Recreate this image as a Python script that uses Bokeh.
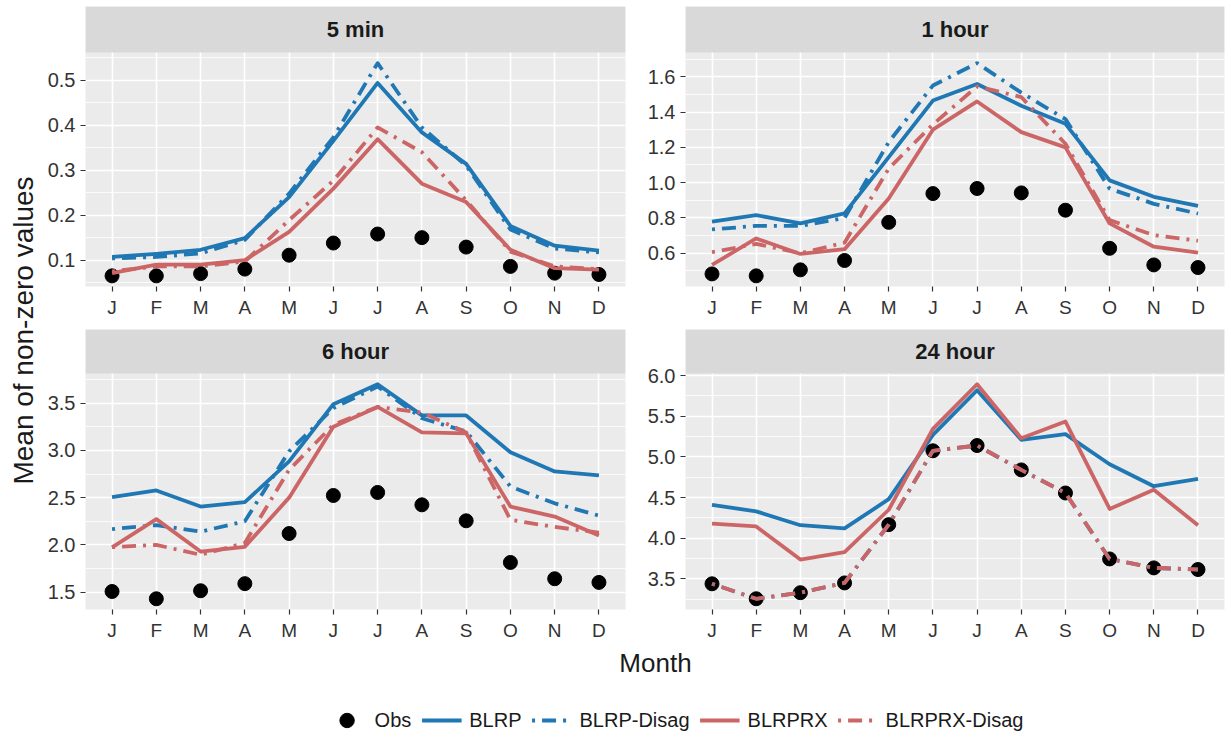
import math
from bokeh.plotting import figure
from bokeh.layouts import row, column
from bokeh.models import (Label, Legend, LegendItem, FixedTicker, BoxAnnotation,
                          NumeralTickFormatter, Range1d)
from bokeh.embed import file_html
from bokeh.resources import INLINE

# ---------------- data ----------------
months = ["J", "F", "M", "A", "M", "J", "J", "A", "S", "O", "N", "D"]
month_idx = list(range(1, 13))
panel_titles = ["5 min", "1 hour", "6 hour", "24 hour"]
series_names = ["Obs", "BLRP", "BLRP-Disag", "BLRPRX", "BLRPRX-Disag"]

obs_5min = [0.065, 0.065, 0.070, 0.080, 0.111, 0.138, 0.158, 0.150, 0.129, 0.086, 0.071, 0.068]
blrp_5min = [0.107, 0.114, 0.123, 0.149, 0.240, 0.365, 0.494, 0.384, 0.314, 0.176, 0.132, 0.121]
blrpd_5min = [0.104, 0.107, 0.115, 0.145, 0.248, 0.373, 0.538, 0.395, 0.310, 0.168, 0.126, 0.117]
blrprx_5min = [0.071, 0.090, 0.090, 0.100, 0.163, 0.259, 0.369, 0.270, 0.229, 0.123, 0.082, 0.079]
blrprxd_5min = [0.075, 0.086, 0.086, 0.097, 0.189, 0.277, 0.395, 0.340, 0.233, 0.119, 0.086, 0.080]

obs_1h = [0.483, 0.472, 0.506, 0.559, 0.775, 0.938, 0.967, 0.942, 0.844, 0.628, 0.534, 0.519]
blrp_1h = [0.779, 0.816, 0.769, 0.826, 1.145, 1.465, 1.559, 1.436, 1.333, 1.013, 0.920, 0.869]
blrpd_1h = [0.735, 0.755, 0.755, 0.800, 1.230, 1.550, 1.677, 1.510, 1.360, 0.966, 0.880, 0.825]
blrprx_1h = [0.534, 0.684, 0.596, 0.623, 0.910, 1.300, 1.460, 1.286, 1.200, 0.769, 0.637, 0.604]
blrprxd_1h = [0.606, 0.653, 0.600, 0.660, 1.080, 1.330, 1.545, 1.485, 1.220, 0.788, 0.703, 0.671]

obs_6h = [1.507, 1.430, 1.515, 1.590, 2.120, 2.523, 2.555, 2.424, 2.255, 1.814, 1.642, 1.603]
blrp_6h = [2.505, 2.576, 2.406, 2.452, 2.883, 3.489, 3.700, 3.370, 3.370, 2.980, 2.777, 2.735]
blrpd_6h = [2.167, 2.210, 2.140, 2.250, 2.990, 3.447, 3.676, 3.340, 3.200, 2.618, 2.440, 2.310]
blrprx_6h = [1.973, 2.273, 1.930, 1.980, 2.500, 3.250, 3.460, 3.190, 3.180, 2.406, 2.300, 2.100]
blrprxd_6h = [1.976, 2.000, 1.895, 2.020, 2.795, 3.270, 3.460, 3.400, 3.190, 2.265, 2.190, 2.130]

obs_24h = [3.439, 3.255, 3.330, 3.450, 4.167, 5.075, 5.140, 4.840, 4.556, 3.745, 3.635, 3.615]
blrp_24h = [4.410, 4.330, 4.160, 4.120, 4.480, 5.270, 5.820, 5.210, 5.280, 4.910, 4.640, 4.730]
blrpd_24h = [3.439, 3.255, 3.330, 3.450, 4.167, 5.075, 5.140, 4.840, 4.556, 3.745, 3.635, 3.615]
blrprx_24h = [4.180, 4.145, 3.737, 3.830, 4.350, 5.345, 5.894, 5.230, 5.435, 4.360, 4.595, 4.160]
blrprxd_24h = [3.439, 3.255, 3.330, 3.450, 4.167, 5.075, 5.140, 4.840, 4.556, 3.745, 3.635, 3.615]

y_intervals = [0.1, 0.2, 0.5, 0.5]

panels = [
    [obs_5min, blrp_5min, blrpd_5min, blrprx_5min, blrprxd_5min],
    [obs_1h, blrp_1h, blrpd_1h, blrprx_1h, blrprxd_1h],
    [obs_6h, blrp_6h, blrpd_6h, blrprx_6h, blrprxd_6h],
    [obs_24h, blrp_24h, blrpd_24h, blrprx_24h, blrprxd_24h],
]

# ---------------- style ----------------
BLUE = "#1F77B4"
RED = "#CC6666"
FONT = "Liberation Sans"
DASH = "3 7 14 7"
LW = 3.8
PT = 14
FRAME_W = 540
YLAB_W = 42
LEFT_MB = 43

line_styles = {
    "BLRP": dict(line_color=BLUE, line_dash="solid"),
    "BLRP-Disag": dict(line_color=BLUE, line_dash=DASH),
    "BLRPRX": dict(line_color=RED, line_dash="solid"),
    "BLRPRX-Disag": dict(line_color=RED, line_dash=DASH),
}


def bare(width, height, mbl=0, mbr=0, x_range=(0, 1)):
    f = figure(width=width, height=height, x_range=Range1d(*x_range), y_range=Range1d(0, 1),
               x_axis_location=None, y_axis_location=None, toolbar_location=None,
               output_backend="svg", outline_line_color=None, title=None,
               min_border_left=mbl, min_border_right=mbr, min_border_top=0, min_border_bottom=0)
    f.grid.visible = False
    return f


def make_panel(k, mbl, mbr, mbt, mbb, strip_h, panel_h):
    title = panel_titles[k]
    series = panels[k]
    iv = y_intervals[k]
    allv = [v for s in series for v in s]
    lo, hi = min(allv), max(allv)
    pad = 0.05 * (hi - lo)
    y0, y1 = lo - pad, hi + pad
    dpp = (y1 - y0) / panel_h
    ytop = y1 + strip_h * dpp

    ticks = [round(i * iv, 10) for i in range(math.ceil(y0 / iv), math.floor(y1 / iv) + 1)]
    minors = [round((i + 0.5) * iv, 10) for i in range(math.floor(y0 / iv) - 1, math.floor(y1 / iv) + 1)
              if y0 <= (i + 0.5) * iv <= y1]

    p = figure(width=mbl + FRAME_W + mbr, height=mbt + strip_h + panel_h + mbb,
               x_range=Range1d(0.4, 12.6), y_range=Range1d(y0, ytop), toolbar_location=None,
               output_backend="svg", title=None,
               min_border_left=mbl, min_border_right=mbr, min_border_top=mbt, min_border_bottom=mbb,
               background_fill_color="#EBEBEB", border_fill_color="white", outline_line_color=None)

    p.xaxis.ticker = FixedTicker(ticks=month_idx)
    p.xaxis.major_label_overrides = {i: m for i, m in zip(month_idx, months)}
    p.yaxis.ticker = FixedTicker(ticks=ticks, minor_ticks=minors)
    p.yaxis.formatter = NumeralTickFormatter(format="0.0")
    for ax in (p.xaxis, p.yaxis):
        ax.axis_line_color = None
        ax.major_tick_line_color = "#333333"
        ax.major_tick_line_width = 1.2
        ax.major_tick_out = 5
        ax.major_tick_in = 0
        ax.minor_tick_line_color = None
        ax.major_label_text_font = FONT
        ax.major_label_text_color = "#333333"
        ax.major_label_standoff = 5
    p.xaxis.major_label_text_font_size = "19px"
    p.yaxis.major_label_text_font_size = "20px"
    p.xgrid.grid_line_color = "white"
    p.xgrid.grid_line_width = 1.6
    p.ygrid.grid_line_color = "white"
    p.ygrid.grid_line_width = 1.6
    p.ygrid.minor_grid_line_color = "white"
    p.ygrid.minor_grid_line_width = 0.8

    p.scatter(month_idx, series[0], size=PT, color="black")
    for name, vals in zip(series_names[1:], series[1:]):
        p.line(month_idx, vals, line_width=LW, line_join="round", **line_styles[name])

    # facet strip
    p.add_layout(BoxAnnotation(bottom=y1, fill_color="#D9D9D9", fill_alpha=1.0,
                               line_color=None, line_alpha=0))
    p.add_layout(Label(x=6.5, y=y1 + strip_h * dpp / 2, text=title, text_align="center",
                       text_baseline="middle", text_font=FONT, text_font_style="bold",
                       text_font_size="22px", text_color="#1A1A1A"))
    return p


tl = make_panel(0, LEFT_MB, 19, 6, 43, 46, 234)
tr = make_panel(1, 40, 4, 6, 43, 46, 234)
bl = make_panel(2, LEFT_MB, 19, 0, 40, 44, 236)
br = make_panel(3, 40, 4, 0, 40, 44, 236)

grid_w = (LEFT_MB + FRAME_W + 19) + (40 + FRAME_W + 4)
grid_h = (6 + 46 + 234 + 43) + (44 + 236 + 40)

# x label
xlab = bare(grid_w, 27)
xlab.add_layout(Label(x=655 - YLAB_W, y=14, x_units="screen", y_units="screen", text="Month",
                      text_align="center", text_baseline="middle", text_font=FONT,
                      text_font_size="26px", text_color="#1A1A1A"))

# y label
ylab = bare(YLAB_W, grid_h)
ylab.add_layout(Label(x=23, y=grid_h - 330, x_units="screen", y_units="screen",
                      text="Mean of non-zero values", angle=math.pi / 2,
                      text_align="center", text_baseline="middle", text_font=FONT,
                      text_font_size="28px", text_color="#1A1A1A"))

# legend (handles use the real data but sit outside the visible range)
lf = bare(YLAB_W + grid_w, 66, mbl=122, x_range=(-30, -29))
items = []
r = lf.scatter(month_idx, obs_5min, size=PT, color="black")
items.append(LegendItem(label=series_names[0], renderers=[r]))
for name, vals in zip(series_names[1:], panels[0][1:]):
    r = lf.line(month_idx, vals, line_width=LW, **line_styles[name])
    items.append(LegendItem(label=name, renderers=[r]))
leg = Legend(items=items, orientation="horizontal", location="bottom_center",
             label_text_font=FONT, label_text_font_size="20px", label_text_color="#1A1A1A",
             glyph_width=40, glyph_height=36, label_standoff=8, spacing=10, padding=0,
             margin=4, border_line_color=None, background_fill_alpha=0)
lf.add_layout(leg)

layout = column(
    row(ylab, column(row(tl, tr, spacing=0), row(bl, br, spacing=0), xlab, spacing=0), spacing=0),
    lf, spacing=0)

open("out.html", "w").write(file_html(layout, INLINE))
